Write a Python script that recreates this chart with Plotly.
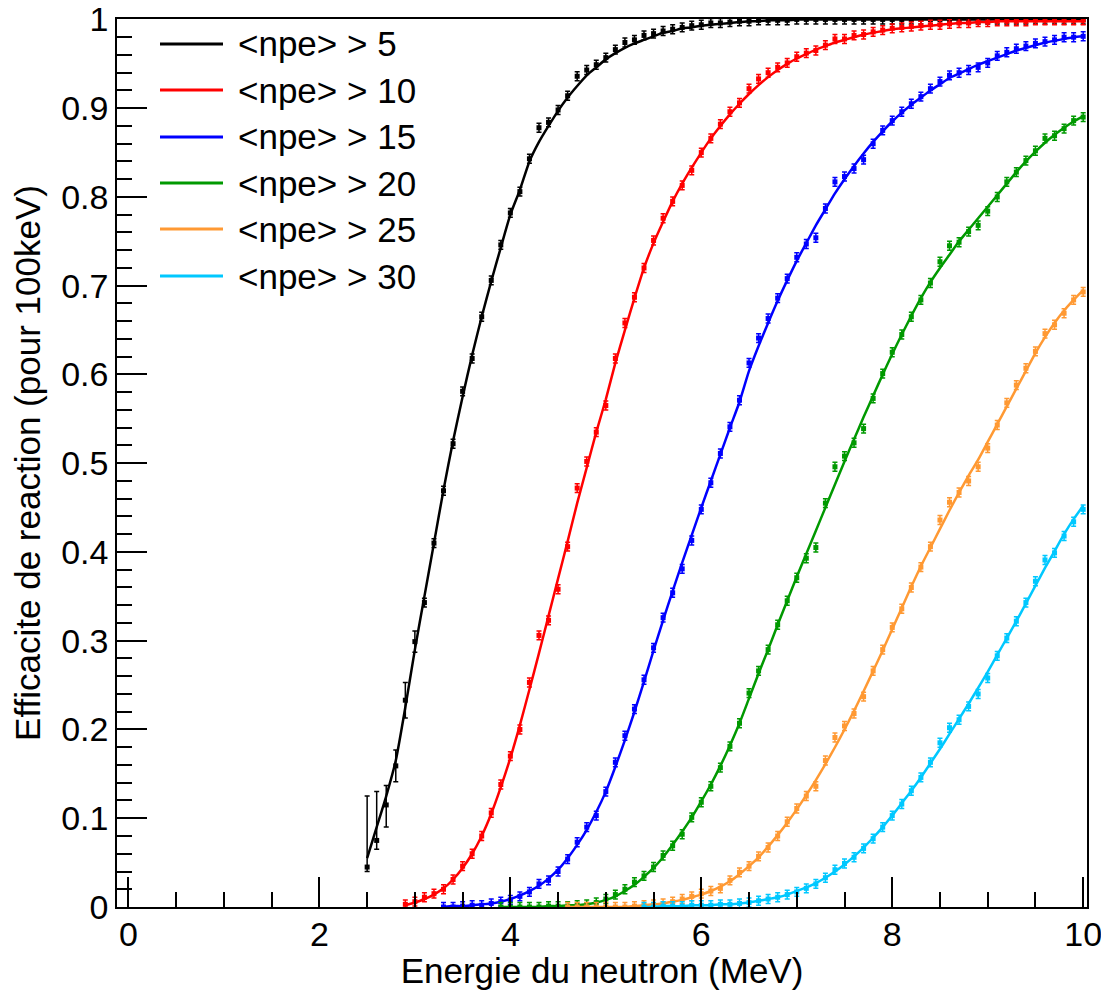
import plotly.graph_objects as go

# ---------------- data ----------------
LABELS = ["<npe> > 5", "<npe> > 10", "<npe> > 15", "<npe> > 20", "<npe> > 25", "<npe> > 30"]
COLORS = ["#000000", "#ff0000", "#0000ff", "#009900", "#ff9933", "#00c8ff"]
Y_TICKS = [0, 0.1, 0.2, 0.3, 0.4, 0.5, 0.6, 0.7, 0.8, 0.9, 1]
Y_TICK_TEXT = ["0", "0.1", "0.2", "0.3", "0.4", "0.5", "0.6", "0.7", "0.8", "0.9", "1"]
X_TICKS = [0, 2, 4, 6, 8, 10]
X_TICK_TEXT = ["0", "2", "4", "6", "8", "10"]

# measured efficiencies, one value per 100 keV bin, last bin at 10.0 MeV
eff_npe5 = [0.045, 0.075, 0.115, 0.159, 0.233, 0.299, 0.343, 0.41, 0.469, 0.522,
            0.581, 0.618, 0.665, 0.706, 0.746, 0.782, 0.806, 0.843, 0.878, 0.884,
            0.898, 0.914, 0.936, 0.943, 0.949, 0.957, 0.966, 0.974, 0.977, 0.982,
            0.984, 0.987, 0.989, 0.991, 0.993, 0.994, 0.996, 0.996, 0.997, 0.998,
            0.998, 0.999, 0.999, 0.999, 0.999,
            1.0, 1.0, 1.0, 1.0, 1.0, 1.0, 1.0, 1.0, 1.0, 1.0,
            1.0, 1.0, 1.0, 1.0, 1.0, 1.0, 1.0, 1.0, 1.0, 1.0,
            1.0, 1.0, 1.0, 1.0, 1.0, 1.0, 1.0, 1.0, 1.0, 1.0, 1.0]
fit_npe5 = [0.055, 0.09, 0.125, 0.165, 0.225, 0.29, 0.35, 0.41, 0.47, 0.525,
            0.575, 0.622, 0.665, 0.705, 0.743, 0.78, 0.808, 0.84, 0.862, 0.88,
            0.897, 0.912, 0.925, 0.937, 0.946, 0.955, 0.962, 0.968, 0.973, 0.977,
            0.981, 0.985, 0.987, 0.99, 0.991, 0.993, 0.994, 0.995, 0.996, 0.997,
            0.998, 0.998, 0.999, 0.999, 0.999,
            1.0, 1.0, 1.0, 1.0, 1.0, 1.0, 1.0, 1.0, 1.0, 1.0,
            1.0, 1.0, 1.0, 1.0, 1.0, 1.0, 1.0, 1.0, 1.0, 1.0,
            1.0, 1.0, 1.0, 1.0, 1.0, 1.0, 1.0, 1.0, 1.0, 1.0, 1.0]
err_up_npe5 = [0.08, 0.055, 0.022, 0.018, 0.02, 0.012]
err_dn_npe5 = [0.005, 0.01, 0.025, 0.018, 0.02, 0.012]

eff_npe10 = [0.003, 0.006, 0.011, 0.015, 0.02, 0.031, 0.046, 0.06, 0.08, 0.106,
             0.138, 0.17, 0.20, 0.253, 0.306, 0.323, 0.358, 0.406, 0.472, 0.502,
             0.535, 0.565, 0.618, 0.658, 0.687, 0.72, 0.751, 0.776, 0.795, 0.813,
             0.83, 0.85, 0.866, 0.882, 0.896, 0.906, 0.922, 0.933, 0.94, 0.946,
             0.951, 0.958, 0.962, 0.965, 0.971, 0.978, 0.978, 0.982, 0.983, 0.986,
             0.988, 0.99, 0.991, 0.992, 0.993, 0.994, 0.994, 0.995, 0.996, 0.996,
             0.997, 0.997, 0.998, 0.998, 0.998, 0.998, 0.999, 0.999, 0.999, 0.999,
             0.999, 0.999]
fit_npe10 = [0.002, 0.005, 0.009, 0.014, 0.021, 0.031, 0.044, 0.06, 0.08, 0.105,
             0.135, 0.168, 0.205, 0.245, 0.286, 0.328, 0.37, 0.412, 0.455, 0.495,
             0.535, 0.572, 0.613, 0.65, 0.686, 0.72, 0.748, 0.772, 0.795, 0.815,
             0.833, 0.85, 0.866, 0.88, 0.893, 0.905, 0.916, 0.926, 0.935, 0.943,
             0.95, 0.956, 0.961, 0.966, 0.97, 0.974, 0.977, 0.98, 0.983, 0.985,
             0.987, 0.989, 0.99, 0.991, 0.992, 0.993, 0.994, 0.995, 0.996, 0.996,
             0.997, 0.997, 0.998, 0.998, 0.998, 0.998, 0.998, 0.998, 0.998, 0.998,
             0.998, 0.998]

eff_npe15 = [0.0, 0.0, 0.001, 0.002, 0.002, 0.004, 0.006, 0.008, 0.012, 0.017,
             0.026, 0.03, 0.04, 0.054, 0.073, 0.09, 0.103, 0.13, 0.163, 0.193,
             0.223, 0.256, 0.292, 0.326, 0.354, 0.381, 0.413, 0.448, 0.478, 0.511,
             0.541, 0.571, 0.613, 0.641, 0.663, 0.686, 0.708, 0.732, 0.747, 0.754,
             0.787, 0.817, 0.823, 0.832, 0.842, 0.86, 0.875, 0.886, 0.896, 0.905,
             0.913, 0.922, 0.93, 0.937, 0.94, 0.943, 0.946, 0.951, 0.959, 0.963,
             0.967, 0.97, 0.973, 0.975, 0.977, 0.98, 0.98, 0.981]
fit_npe15 = [0.0, 0.001, 0.001, 0.002, 0.003, 0.004, 0.006, 0.009, 0.013, 0.018,
             0.024, 0.032, 0.042, 0.055, 0.07, 0.087, 0.107, 0.13, 0.158, 0.188,
             0.22, 0.254, 0.289, 0.323, 0.356, 0.388, 0.419, 0.45, 0.48, 0.51,
             0.54, 0.569, 0.604, 0.632, 0.658, 0.683, 0.706, 0.728, 0.748, 0.768,
             0.786, 0.804, 0.82, 0.835, 0.849, 0.862, 0.874, 0.885, 0.895, 0.904,
             0.912, 0.92, 0.927, 0.934, 0.939, 0.944, 0.949, 0.953, 0.957, 0.961,
             0.965, 0.968, 0.971, 0.974, 0.976, 0.978, 0.98, 0.981]

eff_npe20 = [0.0, 0.0, 0.0, 0.0, 0.0, 0.001, 0.001, 0.001, 0.002, 0.003,
             0.005, 0.009, 0.014, 0.02, 0.028, 0.035, 0.045, 0.058, 0.069, 0.082,
             0.101, 0.118, 0.136, 0.157, 0.181, 0.207, 0.241, 0.266, 0.29, 0.318,
             0.345, 0.371, 0.393, 0.405, 0.455, 0.496, 0.508, 0.523, 0.539, 0.573,
             0.601, 0.625, 0.645, 0.665, 0.684, 0.703, 0.727, 0.745, 0.749, 0.761,
             0.768, 0.784, 0.80, 0.817, 0.828, 0.841, 0.852, 0.866, 0.869, 0.877,
             0.886, 0.89]
fit_npe20 = [0.0, 0.0, 0.0, 0.0, 0.0, 0.001, 0.001, 0.002, 0.002, 0.003,
             0.005, 0.008, 0.012, 0.018, 0.025, 0.034, 0.044, 0.056, 0.07, 0.085,
             0.101, 0.119, 0.138, 0.159, 0.182, 0.207, 0.235, 0.263, 0.29, 0.318,
             0.345, 0.372, 0.398, 0.424, 0.45, 0.476, 0.502, 0.527, 0.552, 0.576,
             0.6, 0.623, 0.645, 0.666, 0.686, 0.704, 0.72, 0.735, 0.75, 0.763,
             0.776, 0.789, 0.802, 0.815, 0.828, 0.84, 0.851, 0.861, 0.87, 0.878,
             0.885, 0.891]

eff_npe25 = [0.0, 0.0, 0.0, 0.0, 0.0, 0.0, 0.0, 0.001, 0.002, 0.003,
             0.004, 0.006, 0.009, 0.012, 0.015, 0.018, 0.021, 0.03, 0.039, 0.046,
             0.057, 0.067, 0.08, 0.096, 0.111, 0.125, 0.136, 0.165, 0.191, 0.204,
             0.218, 0.237, 0.266, 0.29, 0.315, 0.336, 0.36, 0.383, 0.406, 0.436,
             0.456, 0.467, 0.48, 0.496, 0.517, 0.543, 0.568, 0.588, 0.607, 0.626,
             0.646, 0.656, 0.669, 0.684, 0.693]
fit_npe25 = [0.0, 0.0, 0.0, 0.0, 0.0, 0.0, 0.0, 0.001, 0.002, 0.003,
             0.004, 0.006, 0.008, 0.011, 0.014, 0.018, 0.023, 0.029, 0.037, 0.046,
             0.056, 0.068, 0.081, 0.095, 0.11, 0.126, 0.143, 0.161, 0.18, 0.2,
             0.221, 0.243, 0.266, 0.289, 0.313, 0.337, 0.361, 0.384, 0.405, 0.426,
             0.447, 0.467, 0.486, 0.504, 0.524, 0.544, 0.564, 0.584, 0.604, 0.624,
             0.642, 0.658, 0.672, 0.684, 0.695]

eff_npe30 = [0.0, 0.0, 0.001, 0.001, 0.001, 0.002, 0.002, 0.002, 0.003, 0.003,
             0.004, 0.005, 0.007, 0.009, 0.011, 0.014, 0.017, 0.021, 0.026, 0.033,
             0.042, 0.049, 0.056, 0.066, 0.077, 0.09, 0.103, 0.116, 0.131, 0.146,
             0.163, 0.185, 0.202, 0.211, 0.226, 0.24, 0.258, 0.283, 0.303, 0.322,
             0.343, 0.367, 0.391, 0.399, 0.418, 0.434, 0.448]
fit_npe30 = [0.0, 0.0, 0.001, 0.001, 0.001, 0.002, 0.002, 0.002, 0.003, 0.003,
             0.004, 0.005, 0.007, 0.009, 0.011, 0.014, 0.018, 0.022, 0.027, 0.033,
             0.04, 0.048, 0.057, 0.067, 0.078, 0.09, 0.103, 0.117, 0.131, 0.146,
             0.162, 0.178, 0.195, 0.212, 0.229, 0.247, 0.265, 0.284, 0.303, 0.322,
             0.342, 0.362, 0.382, 0.401, 0.42, 0.437, 0.452]

POINTS = [eff_npe5, eff_npe10, eff_npe15, eff_npe20, eff_npe25, eff_npe30]
FITS = [fit_npe5, fit_npe10, fit_npe15, fit_npe20, fit_npe25, fit_npe30]
STAT_ERR = 0.005   # typical statistical error per bin
LAST_BIN = 10.0    # MeV
BIN_WIDTH = 0.1    # MeV


def energies(n):
    return [round(LAST_BIN - BIN_WIDTH * (n - 1 - i), 2) for i in range(n)]


FONT = "Liberation Sans, Arial, Helvetica, sans-serif"

fig = go.Figure()

for k, (pts, fit, col) in enumerate(zip(POINTS, FITS, COLORS)):
    e = energies(len(pts))
    up = [STAT_ERR] * len(pts)
    dn = [STAT_ERR] * len(pts)
    if k == 0:
        up[:len(err_up_npe5)] = err_up_npe5
        dn[:len(err_dn_npe5)] = err_dn_npe5
    fig.add_trace(go.Scatter(
        x=energies(len(fit)), y=fit, mode="lines",
        line=dict(color=col, width=2.5, shape="spline", smoothing=0.6),
        showlegend=False, hoverinfo="skip"))
    fig.add_trace(go.Scatter(
        x=e, y=pts, mode="markers",
        marker=dict(symbol="square", size=5, color=col),
        error_y=dict(type="data", symmetric=False, array=up, arrayminus=dn,
                     color=col, thickness=1.5, width=2.5),
        showlegend=False, name=LABELS[k]))

# ---------------- layout ----------------
# the page body has an 8 px margin; positions below are in page pixels
OFF = 8
L, R, T, B = 117, 1087, 19, 907          # plot frame in page pixels
W, H = 1109 - OFF, 990 - OFF

axis_common = dict(
    showline=True, linecolor="black", linewidth=1.5, mirror=True,
    ticks="inside", tickcolor="black", tickwidth=1.5, ticklen=30,
    showgrid=False, zeroline=False,
    tickfont=dict(family=FONT, size=34, color="black"),
)

fig.update_layout(
    width=W, height=H,
    margin=dict(l=L - OFF, r=W - (R - OFF), t=T - OFF, b=H - (B - OFF), autoexpand=False),
    paper_bgcolor="white", plot_bgcolor="white",
    xaxis=dict(range=[-0.12, 10.04], tickmode="array",
               tickvals=X_TICKS, ticktext=X_TICK_TEXT,
               minor=dict(dtick=0.5, tick0=0, ticklen=15, ticks="inside",
                          tickcolor="black", tickwidth=1.5),
               ticklabelstandoff=-4,
               title=dict(text="Energie du neutron (MeV)", standoff=0,
                          font=dict(family=FONT, size=35, color="black")),
               **axis_common),
    yaxis=dict(range=[0, 1.0005], tickmode="array",
               tickvals=Y_TICKS, ticktext=Y_TICK_TEXT,
               minor=dict(dtick=0.02, tick0=0, ticklen=15, ticks="inside",
                          tickcolor="black", tickwidth=1.5),
               ticklabeloverflow="allow",
               title=dict(text="Efficacite de reaction (pour 100keV)", standoff=14,
                          font=dict(family=FONT, size=35, color="black")),
               **axis_common),
    showlegend=False,
)

# legend drawn in the top-left corner of the frame (page pixels)
legend_rows_px = [44, 90, 137, 183, 229, 276]
for lab, col, py in zip(LABELS, COLORS, legend_rows_px):
    yp = (B - py) / (B - T)
    fig.add_shape(type="line", xref="paper", yref="paper",
                  x0=(160 - L) / (R - L), x1=(223 - L) / (R - L), y0=yp, y1=yp,
                  line=dict(color=col, width=3))
    fig.add_annotation(xref="paper", yref="paper", x=(236 - L) / (R - L), y=yp,
                       text=lab.replace("<", "&lt;").replace(">", "&gt;"),
                       showarrow=False, xanchor="left", yanchor="middle",
                       font=dict(family=FONT, size=35, color="black"))

fig.write_html("out.html")
